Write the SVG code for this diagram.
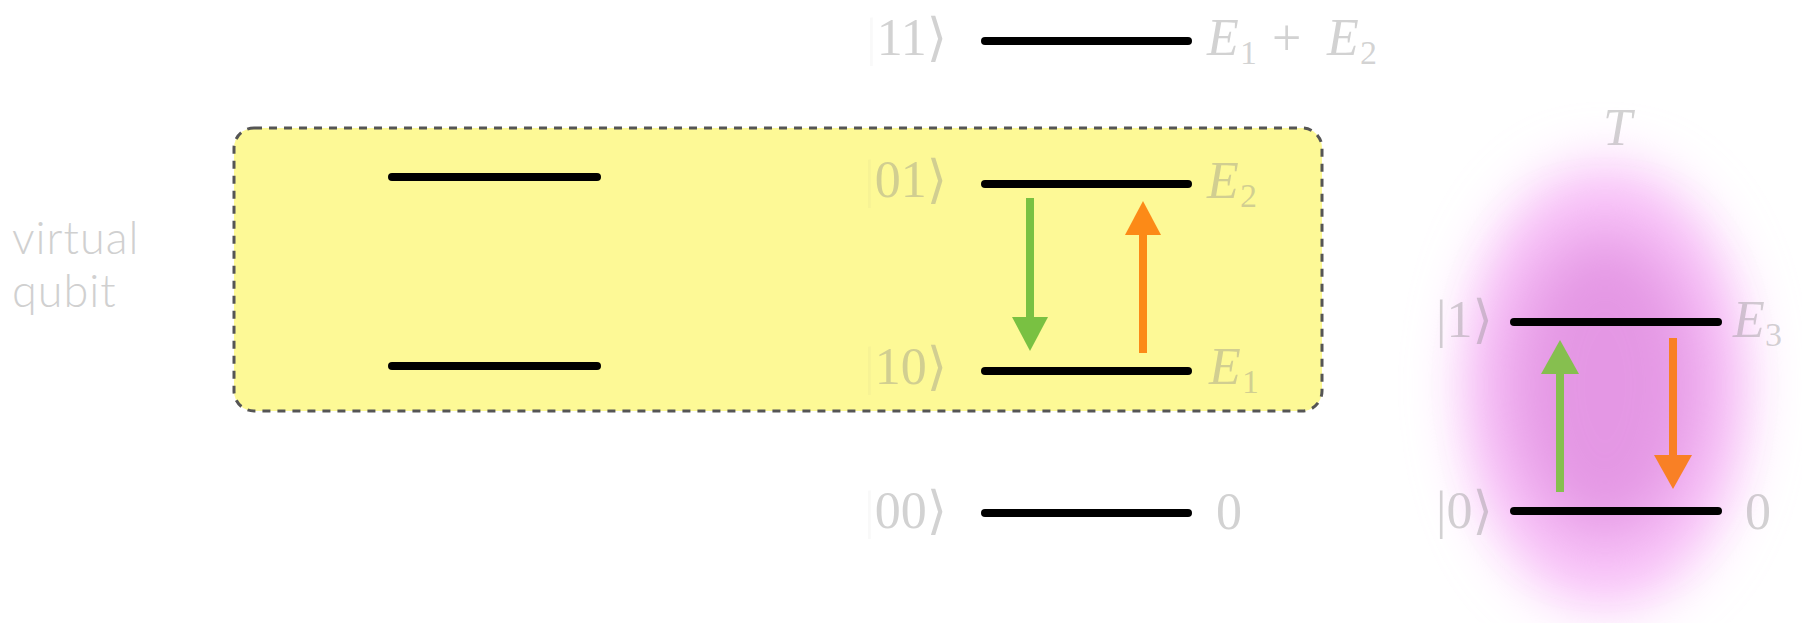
<svg xmlns="http://www.w3.org/2000/svg" width="1802" height="623" viewBox="0 0 1802 623">
  <defs>
    <style>
      .lvl { stroke: #000; stroke-width: 8; stroke-linecap: round; }
      .ket { font-family: "Liberation Serif", "DejaVu Serif", serif; font-size: 52px; fill: #8a8a8a; fill-opacity: 0.38; }
      .en { font-family: "Liberation Serif", "DejaVu Serif", serif; font-size: 52px; fill: #8a8a8a; fill-opacity: 0.38; }
      .it { font-style: italic; }
      .sub { font-size: 34px; }
      .side { font-family: "Lato", "Liberation Sans", sans-serif; font-weight: 300; font-size: 45px; letter-spacing: 1px; fill: #d0d0d0; }
      .bar { fill-opacity: 0.05; }
      .arr { stroke-width: 8; fill: none; }
    </style>
    <marker id="hg" viewBox="0 0 34 36" refX="2" refY="18" markerWidth="34" markerHeight="36" markerUnits="userSpaceOnUse" orient="auto">
      <path d="M0,0 L34,18 L0,36 z" fill="#79c142"/>
    </marker>
    <marker id="ho" viewBox="0 0 34 36" refX="2" refY="18" markerWidth="34" markerHeight="36" markerUnits="userSpaceOnUse" orient="auto">
      <path d="M0,0 L34,18 L0,36 z" fill="#fc8a17"/>
    </marker>
    <marker id="hg2" viewBox="0 0 34 38" refX="2" refY="19" markerWidth="34" markerHeight="38" markerUnits="userSpaceOnUse" orient="auto">
      <path d="M0,0 L34,19 L0,38 z" fill="#86bf4f"/>
    </marker>
    <marker id="ho2" viewBox="0 0 34 38" refX="2" refY="19" markerWidth="34" markerHeight="38" markerUnits="userSpaceOnUse" orient="auto">
      <path d="M0,0 L34,19 L0,38 z" fill="#f98025"/>
    </marker>
    <filter id="blur1" x="-50%" y="-50%" width="200%" height="200%">
      <feGaussianBlur stdDeviation="26"/>
    </filter>
    <filter id="blur2" x="-50%" y="-50%" width="200%" height="200%">
      <feGaussianBlur stdDeviation="32"/>
    </filter>
  </defs>

  <rect width="1802" height="623" fill="#ffffff"/>

  <!-- thermal bath blob -->
  <g id="bath">
    <ellipse cx="1605" cy="386" rx="145" ry="224" fill="#f9c6f9" filter="url(#blur1)"/>
    <ellipse cx="1605" cy="385" rx="98" ry="155" fill="#e497e4" filter="url(#blur2)"/>
    <text class="en it" x="1603" y="145">T</text>
  </g>

  <!-- virtual qubit box -->
  <g id="virtual-qubit">
    <rect x="234" y="128" width="1088" height="283" rx="20" ry="20" fill="#fdf996" stroke="#555" stroke-width="3" stroke-dasharray="8 7"/>
    <line class="lvl" x1="392" y1="177" x2="597" y2="177"/>
    <line class="lvl" x1="392" y1="366" x2="597" y2="366"/>
  </g>

  <g id="label-virtual">
    <text class="side" x="12" y="254">virtual</text>
    <text class="side" x="12" y="307">qubit</text>
  </g>

  <!-- two-qubit levels -->
  <g id="level-11">
    <line class="lvl" x1="985" y1="41" x2="1188" y2="41"/>
    <text class="ket" x="947" y="55" text-anchor="end"><tspan class="bar">|</tspan>11⟩</text>
    <text class="en"><tspan class="it" x="1207" y="55">E</tspan><tspan class="sub" x="1240" y="64">1</tspan><tspan x="1272" y="55">+</tspan><tspan class="it" x="1327" y="55">E</tspan><tspan class="sub" x="1360" y="64">2</tspan></text>
  </g>
  <g id="level-01">
    <line class="lvl" x1="985" y1="184" x2="1188" y2="184"/>
    <text class="ket" x="947" y="197" text-anchor="end"><tspan class="bar">|</tspan>01⟩</text>
    <text class="en"><tspan class="it" x="1207" y="198">E</tspan><tspan class="sub" x="1240" y="207">2</tspan></text>
  </g>
  <g id="level-10">
    <line class="lvl" x1="985" y1="371" x2="1188" y2="371"/>
    <text class="ket" x="947" y="384" text-anchor="end"><tspan class="bar">|</tspan>10⟩</text>
    <text class="en"><tspan class="it" x="1209" y="384">E</tspan><tspan class="sub" x="1242" y="393">1</tspan></text>
  </g>
  <g id="level-00">
    <line class="lvl" x1="985" y1="513" x2="1188" y2="513"/>
    <text class="ket" x="947" y="528" text-anchor="end"><tspan class="bar">|</tspan>00⟩</text>
    <text class="en" x="1216" y="529">0</text>
  </g>

  <!-- single qubit levels -->
  <g id="level-1">
    <line class="lvl" x1="1514" y1="322" x2="1718" y2="322"/>
    <text class="ket" x="1436" y="337">|1⟩</text>
    <text class="en"><tspan class="it" x="1733" y="337">E</tspan><tspan class="sub" x="1765" y="346">3</tspan></text>
  </g>
  <g id="level-0">
    <line class="lvl" x1="1514" y1="511" x2="1718" y2="511"/>
    <text class="ket" x="1436" y="528">|0⟩</text>
    <text class="en" x="1745" y="529">0</text>
  </g>

  <!-- transitions -->
  <g id="connectors" class="arr">
    <line x1="1030" y1="198" x2="1030" y2="319" stroke="#79c142" marker-end="url(#hg)"/>
    <line x1="1143" y1="353" x2="1143" y2="233" stroke="#fc8a17" marker-end="url(#ho)"/>
    <line x1="1560" y1="492" x2="1560" y2="372" stroke="#86bf4f" marker-end="url(#hg2)"/>
    <line x1="1673" y1="338" x2="1673" y2="457" stroke="#f98025" marker-end="url(#ho2)"/>
  </g>
</svg>
